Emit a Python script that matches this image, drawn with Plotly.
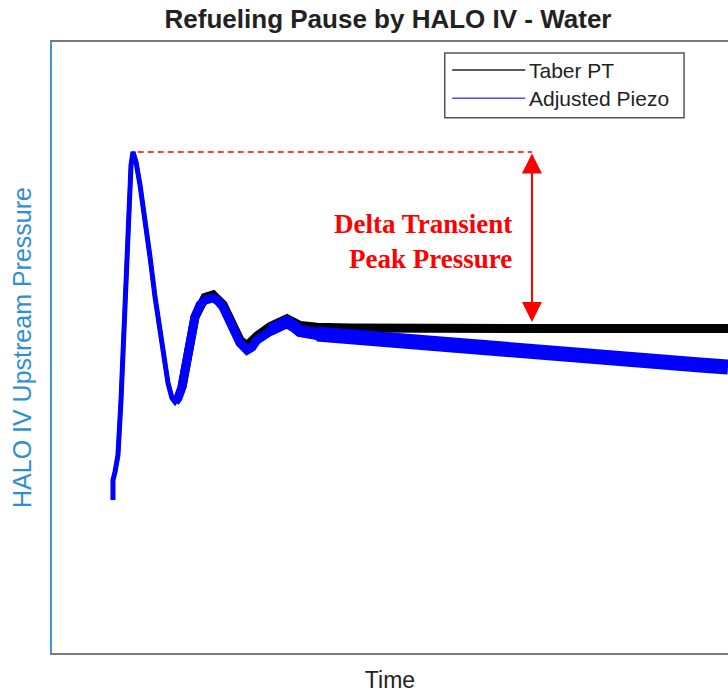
import plotly.graph_objects as go

# ---- data (time in s, pressure in arbitrary %) ----
blue_t = [0.902, 0.902, 0.932, 0.947, 0.976, 1.021, 1.080, 1.139, 1.169, 1.198,
          1.243, 1.302, 1.346, 1.450, 1.524, 1.627, 1.716, 1.775, 1.820, 1.864,
          1.923, 2.012, 2.115, 2.189, 2.263, 2.382, 2.456, 2.530, 2.663, 2.781,
          2.885, 2.959, 3.033, 3.225, 3.373, 3.476, 3.595, 3.669, 3.920, 4.408,
          5.148, 5.888, 6.627, 7.367, 8.107, 8.846, 9.586, 10.0]
blue_p = [25.04, 28.31, 29.62, 30.61, 32.41, 41.41, 58.27, 74.63, 79.87, 82.00,
          80.36, 76.60, 73.32, 64.81, 58.27, 50.08, 44.19, 41.73, 41.08, 41.73,
          43.54, 48.45, 54.99, 56.96, 57.77, 58.10, 57.61, 56.63, 53.36, 50.74,
          49.59, 50.08, 51.23, 52.86, 53.68, 54.17, 53.36, 52.70, 52.21, 51.72,
          51.23, 50.57, 49.75, 48.94, 48.28, 47.79, 47.14, 46.81]

black_t = [1.923, 2.115, 2.263, 2.382, 2.530, 2.781, 2.885, 3.033,
           3.225, 3.476, 3.669, 3.920, 4.408, 5.148, 5.888, 6.627, 7.367, 8.107,
           8.846, 9.586, 10.0]
black_p = [43.54, 54.99, 58.2, 58.6, 57.0, 51.2, 50.3, 51.9,
           53.4, 54.7, 53.6, 53.3, 53.2, 53.1, 53.1, 53.1, 53.1, 53.1,
           53.1, 53.1, 53.1]

series_names = ["Taber PT", "Adjusted Piezo"]
peak_time = 1.198
peak_pressure = 82.00
arrow_time = 7.10
steady_pressure = 54.17
note_lines = ["Delta Transient", "Peak Pressure"]

fig = go.Figure()

# black (Taber PT) - early transient coincides with piezo and is hidden beneath it
fig.add_trace(go.Scatter(x=blue_t[:21], y=blue_p[:21], mode="lines",
                         line=dict(color="#000000", width=4), showlegend=False, hoverinfo="skip"))
fig.add_trace(go.Scatter(x=black_t, y=black_p, mode="lines", name=series_names[0],
                         line=dict(color="#000000", width=9), showlegend=False, hoverinfo="skip"))
# blue (Adjusted Piezo), noise band widening with time
fig.add_trace(go.Scatter(x=blue_t[:21], y=blue_p[:21], mode="lines",
                         line=dict(color="#0000ff", width=5), showlegend=False, hoverinfo="skip"))
fig.add_trace(go.Scatter(x=blue_t[18:36], y=blue_p[18:36], mode="lines",
                         line=dict(color="#0000ff", width=9), showlegend=False, hoverinfo="skip"))
fig.add_trace(go.Scatter(x=blue_t[33:41], y=blue_p[33:41], mode="lines",
                         line=dict(color="#0000ff", width=12), showlegend=False, hoverinfo="skip"))
fig.add_trace(go.Scatter(x=blue_t[38:], y=blue_p[38:], mode="lines", name=series_names[1],
                         line=dict(color="#0000ff", width=15), showlegend=False, hoverinfo="skip"))

# red dashed reference line at peak
fig.add_shape(type="line", xref="x", yref="y", x0=peak_time + 0.07, x1=arrow_time,
              y0=peak_pressure, y1=peak_pressure,
              line=dict(color="#ff0000", width=1.5, dash="6px,4px"))
# double-headed arrow
fig.add_annotation(x=arrow_time, y=steady_pressure, ax=arrow_time, ay=peak_pressure,
                   xref="x", yref="y", axref="x", ayref="y", text="", showarrow=True,
                   arrowhead=2, startarrowhead=2, arrowside="end+start",
                   arrowsize=2, startarrowsize=2, arrowwidth=2, arrowcolor="#ff0000",
                   standoff=0, startstandoff=0)
fig.add_annotation(x=arrow_time - 0.26, y=67.35, xref="x", yref="y",
                   text="<br>".join(note_lines), showarrow=False, align="right",
                   xanchor="right", yanchor="middle",
                   font=dict(family="Liberation Serif, Times New Roman, serif", size=27,
                             color="#ff0000", weight="bold"))

# custom legend box
fig.add_shape(type="rect", xref="paper", yref="paper", x0=0.581, x1=0.935, y0=0.876, y1=0.982,
              line=dict(color="#555555", width=1.5), fillcolor="#ffffff")
leg_colors = ["#222222", "#4a4aff"]
leg_y = [0.954, 0.908]
for nm, c, yy in zip(series_names, leg_colors, leg_y):
    fig.add_shape(type="line", xref="paper", yref="paper", x0=0.592, x1=0.700, y0=yy, y1=yy,
                  line=dict(color=c, width=1.5))
    fig.add_annotation(x=0.702, y=yy, xref="paper", yref="paper", text=nm, showarrow=False,
                       xanchor="left", yanchor="middle",
                       font=dict(family="Liberation Sans, Arial, sans-serif", size=21, color="#222222"))

fig.update_layout(
    width=728, height=693,
    margin=dict(l=52, r=0, t=42, b=40),
    paper_bgcolor="white", plot_bgcolor="white",
    title=dict(text="<b>Refueling Pause by HALO IV - Water</b>", x=0.533, xanchor="center",
               y=1 - 19 / 693, yanchor="middle", yref="container",
               font=dict(family="Liberation Sans, Arial, sans-serif", size=26, color="#222222")),
    xaxis=dict(range=[0, 10], showgrid=False, zeroline=False, showticklabels=False, ticks="",
               showline=True, linecolor="#7a7a7a", linewidth=2, mirror=True, automargin=False,
               title=dict(text="Time", standoff=20,
                          font=dict(family="Liberation Sans, Arial, sans-serif", size=23, color="#222222"))),
    yaxis=dict(range=[0, 100], showgrid=False, zeroline=False, showticklabels=False, ticks="",
               showline=True, linecolor="#3c97dc", linewidth=2, automargin=False,
               title=dict(text="HALO IV Upstream Pressure", standoff=11,
                          font=dict(family="Liberation Sans, Arial, sans-serif", size=25, color="#2e90d4"))),
)

fig.write_html("out.html")
